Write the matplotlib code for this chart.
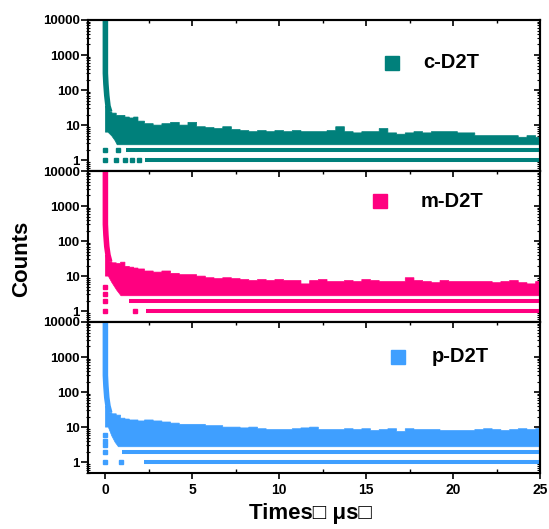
import numpy as np
import matplotlib
matplotlib.use("Agg")
import matplotlib.pyplot as plt
from matplotlib.ticker import LogLocator, NullFormatter, MultipleLocator

plt.rcParams["font.family"] = ["Liberation Sans", "DejaVu Sans"]
plt.rcParams["font.weight"] = "bold"

names = ["c-D2T", "m-D2T", "p-D2T"]
colors = ["#00807b", "#ff0080", "#3f9fff"]

# fast decay right after the pulse (time in us, counts)
decay_t = [0.0, 0.0, 0.0, 0.03, 0.08, 0.15, 0.25]
c_decay = [12000, 1000, 300, 150, 70, 35, 24]
m_decay = [12000, 1000, 300, 150, 70, 40, 26]
p_decay = [12000, 1000, 300, 150, 70, 40, 26]

# upper edge of the noisy tail
env_t = [0.25, 0.5, 0.75, 1.0, 1.25, 1.5, 1.75, 2.0,
         2.5, 3.0, 3.5, 4.0, 4.5, 5.0, 5.5, 6.0, 6.5, 7.0, 7.5, 8.0,
         8.5, 9.0, 9.5, 10.0, 10.5, 11.0, 11.5, 12.0, 12.5, 13.0, 13.5,
         14.0, 14.5, 15.0, 15.5, 16.0, 16.5, 17.0, 17.5, 18.0, 18.5,
         19.0, 19.5, 20.0, 20.5, 21.0, 21.5, 22.0, 22.5, 23.0, 23.5,
         24.0, 24.5, 25.0]
c_env = [24, 22, 19, 19, 17, 16, 17, 13,
         11, 10, 11, 12, 10, 12, 9, 8.5, 8, 9, 7.5, 7,
         6.5, 7, 6.5, 7, 6.5, 7, 6.5, 6.5, 6.5, 7, 9,
         6.5, 6, 6.5, 6.5, 8, 6, 5.5, 6, 6.5, 6,
         6.5, 6.5, 6.5, 6, 6, 5, 5, 5, 5, 5,
         4.5, 5, 4.5]
m_env = [26, 24, 23, 25, 19, 18, 17, 16,
         14, 13, 14, 12, 11, 11, 10, 9, 8.5, 9, 8.5, 8,
         7.5, 8, 7.5, 8, 7.5, 7.5, 6, 7.5, 8, 7, 7,
         7.5, 7, 8, 7.5, 7, 7, 7, 9, 7.5, 7,
         6.5, 7.5, 7, 7, 7, 7, 7, 6.5, 7, 7.5,
         6.5, 6, 7]
p_env = [26, 24, 22, 18, 17, 16, 16, 15,
         16, 15, 14, 13, 12, 12, 12, 11, 11, 10, 10, 9.5,
         10, 9, 8.5, 8.5, 8.5, 9, 9.5, 10, 8.5, 8.5, 8.5,
         9, 8.5, 9, 8, 8.5, 9, 7.5, 9, 8.5, 8.5,
         8.5, 8, 8, 8, 8, 8.5, 9, 8.5, 8, 8.5,
         9, 8.5, 9]

# lower edge of the dense part (counts >= 3)
c_low_t = [0.15, 0.37, 0.56, 0.68, 25]
c_low = [6.3, 4.9, 3.6, 2.75, 2.75]
m_low_t = [0.17, 0.37, 0.65, 0.9, 25]
m_low = [10, 6.6, 4.0, 2.75, 2.75]
p_low_t = [0.17, 0.37, 0.56, 0.75, 25]
p_low = [10, 5.6, 3.7, 2.75, 2.75]

# single-photon rows (counts 2 and 1): where the continuous row starts
c_rows = {2: 1.2, 1: 2.3}
m_rows = {2: 1.35, 1: 2.35}
p_rows = {2: 0.95, 1: 2.2}

# isolated points before the rows start
c_iso_t = [0, 0.75, 0, 0.6, 1.15, 1.55, 1.95]
c_iso = [2, 2, 1, 1, 1, 1, 1]
m_iso_t = [0, 0, 0, 0, 1.7]
m_iso = [5, 3, 2, 1, 1]
p_iso_t = [0, 0, 0, 0, 0, 0.9]
p_iso = [6, 4, 3, 2, 1, 1]

decays = [c_decay, m_decay, p_decay]
envs = [c_env, m_env, p_env]
lows = [(c_low_t, c_low), (m_low_t, m_low), (p_low_t, p_low)]
rows_all = [c_rows, m_rows, p_rows]
isos = [(c_iso_t, c_iso), (m_iso_t, m_iso), (p_iso_t, p_iso)]

# legend positions (axes fraction)
leg_pos = [(0.673, 0.717, 0.741), (0.646, 0.80, 0.736), (0.685, 0.77, 0.761)]


def stepped(t, y):
    t = np.asarray(t, float)
    y = np.asarray(y, float)
    mids = (t[:-1] + t[1:]) / 2
    xs = np.concatenate([[t[0]], np.repeat(mids, 2), [t[-1]]])
    ys = np.repeat(y, 2)
    return xs, ys


fig, axes = plt.subplots(3, 1, figsize=(5.49, 5.29), dpi=100, sharex=True)
fig.subplots_adjust(left=88 / 549, right=540 / 549, top=1 - 20 / 529,
                    bottom=1 - 473 / 529, hspace=0)

for i, ax in enumerate(axes):
    col = colors[i]
    ax.set_yscale("log")

    # dense tail as one filled shape
    ux, uy = stepped(env_t, envs[i])
    lt, lc = lows[i]
    px = np.concatenate([[0.0], ux, lt[::-1], [0.0]])
    py = np.concatenate([[decays[i][-2]], uy, lc[::-1], [lc[0]]])
    ax.fill(px, py, color=col, lw=0.5)

    # fast decay
    ax.plot(decay_t, decays[i], color=col, lw=4, solid_capstyle="butt")

    # rows of counts 2 and 1
    for level, start in rows_all[i].items():
        ax.plot([start, 25], [level, level], color=col, lw=2.9,
                solid_capstyle="butt")

    it, ic = isos[i]
    ax.plot(it, ic, ls="none", marker="s", ms=3, color=col)

    ax.set_xlim(-1, 25)
    ax.set_ylim(0.49, 10000)
    ax.set_yticks([1, 10, 100, 1000, 10000])
    ax.set_yticklabels(["1", "10", "100", "1000", "10000"])
    ax.yaxis.set_minor_locator(LogLocator(base=10, subs=np.arange(2, 10)))
    ax.yaxis.set_minor_formatter(NullFormatter())
    ax.tick_params(axis="y", which="major", direction="out", length=5,
                   width=1.2, labelsize=9.5, pad=1)
    ax.tick_params(axis="y", which="minor", direction="inout", length=3,
                   width=0.8)

    ax.set_xticks([0, 5, 10, 15, 20, 25])
    ax.xaxis.set_minor_locator(MultipleLocator(2.5))
    if i == 2:
        ax.tick_params(axis="x", which="major", direction="out", length=4,
                       width=1.2, labelsize=10, pad=3)
        ax.tick_params(axis="x", which="minor", direction="in", length=3,
                       width=1)
    else:
        ax.tick_params(axis="x", which="both", bottom=False, labelbottom=False)

    top = ax.secondary_xaxis("top")
    top.set_xticks([0, 5, 10, 15, 20, 25])
    top.xaxis.set_minor_locator(MultipleLocator(2.5))
    top.tick_params(axis="x", which="major", direction="in", length=4,
                    width=1.2, labeltop=False)
    top.tick_params(axis="x", which="minor", direction="in", length=2.5,
                    width=1)

    right = ax.secondary_yaxis("right")
    right.set_yticks([1, 10, 100, 1000, 10000])
    right.yaxis.set_minor_locator(LogLocator(base=10, subs=np.arange(2, 10)))
    right.yaxis.set_minor_formatter(NullFormatter())
    right.tick_params(axis="y", which="major", direction="in", length=4,
                      width=1.2, labelright=False)
    right.tick_params(axis="y", which="minor", direction="in", length=2,
                      width=0.8)

    for sp in list(ax.spines.values()) + [top.spines["top"], right.spines["right"]]:
        sp.set_linewidth(1.5)

    mx, my, tx = leg_pos[i]
    ax.plot([mx], [my], transform=ax.transAxes, marker="s", ms=10,
            color=col, ls="none")
    ax.text(tx, my, names[i], transform=ax.transAxes, fontsize=14.5,
            fontweight="bold", va="center", ha="left")

fig.text(22 / 549, 1 - 259 / 529, "Counts", rotation=90, fontsize=16,
         fontweight="bold", ha="center", va="center")
fig.text(310 / 549, 1 - 513 / 529, "Times\u25a1 \u03bcs\u25a1", fontsize=16,
         fontweight="bold", ha="center", va="center")

fig.savefig("out.png", dpi=100)
